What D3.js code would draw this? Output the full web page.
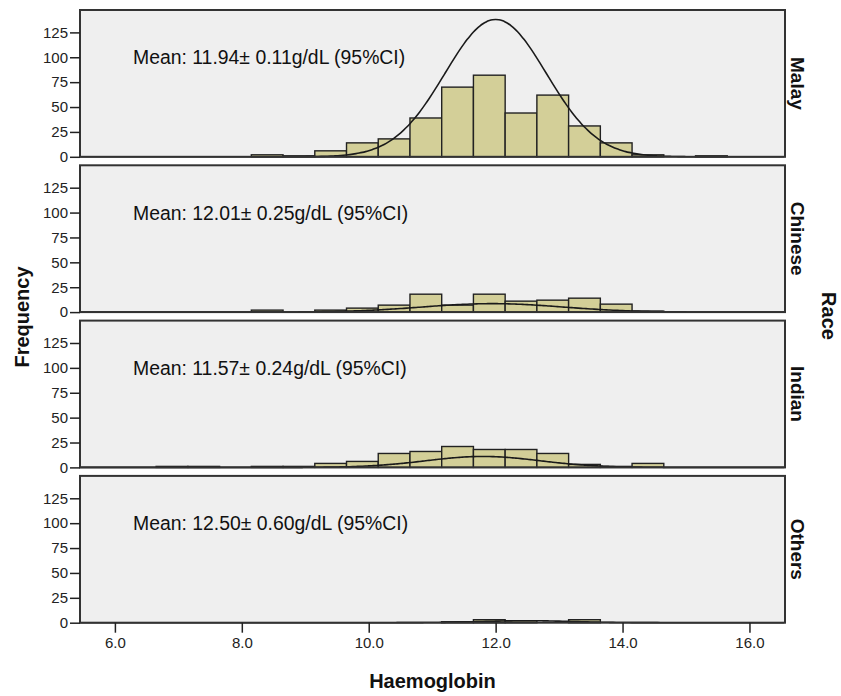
<!doctype html>
<html lang="en">
<head>
<meta charset="utf-8">
<title>Haemoglobin by race</title>
<script src="https://cdn.jsdelivr.net/npm/d3@7"></script>
<style>
    body { margin: 0; background: #fff; }
    svg { font-family: "Liberation Sans", Arial, sans-serif; }
    .tick text { fill: #222; font-size: 15px; }
    .tick line { stroke: #222; stroke-width: 1.5; }
</style>
</head>
<body>
<svg width="841" height="696"></svg>
<script>
    // data
    var races = ["Malay", "Chinese", "Indian", "Others"];
    var binStarts = [6.65, 7.15, 7.65, 8.15, 8.65, 9.15, 9.65, 10.15, 10.65, 11.15, 11.65, 12.15, 12.65, 13.15, 13.65, 14.15, 14.65, 15.15];
    var binWidth = 0.5;
    var malayCounts   = [0, 0, 0, 2, 1, 6, 14, 18, 39, 70, 82, 44, 62, 31, 14, 2, 0, 1];
    var chineseCounts = [0, 0, 0, 2, 0, 2, 4, 7, 18, 7, 18, 11, 12, 14, 8, 1, 0, 0];
    var indianCounts  = [1, 1, 0, 1, 1, 4, 6, 14, 16, 21, 18, 18, 14, 3, 1, 4, 0, 0];
    var othersCounts  = [0, 0, 0, 0, 0, 0, 0, 0, 0, 1, 3, 2, 0, 3, 0, 0, 0, 0];
    var meanLabels = [
        "Mean: 11.94\u00b1 0.11g/dL (95%CI)",
        "Mean: 12.01\u00b1 0.25g/dL (95%CI)",
        "Mean: 11.57\u00b1 0.24g/dL (95%CI)",
        "Mean: 12.50\u00b1 0.60g/dL (95%CI)"
    ];
    // fitted normal curves (centre, spread, peak height as drawn)
    var curveMeans = [12.0, 11.95, 11.8, 12.5];
    var curveSDs = [0.8, 1.1, 0.9, 0.7];
    var curvePeaks = [138, 8.5, 11, 2];
    var yTicks = [0, 25, 50, 75, 100, 125];
    var xTicks = [6, 8, 10, 12, 14, 16];

    var counts = [malayCounts, chineseCounts, indianCounts, othersCounts];

    var svg = d3.select("svg");
    var left = 80, right = 785;
    var panelTop = 10, panelStep = 155.3, panelH = 146.8;

    var x = d3.scaleLinear().domain([5.45, 16.56]).range([left, right]);
    var y = d3.scaleLinear().domain([0, 147.5]).range([panelH, 0]);

    var line = d3.line()
        .x(function (d) { return x(d[0]); })
        .y(function (d) { return y(d[1]); })
        .curve(d3.curveBasis);

    races.forEach(function (race, i) {
        var g = svg.append("g")
            .attr("transform", "translate(0," + (panelTop + i * panelStep) + ")");

        g.append("rect")
            .attr("x", left)
            .attr("y", 0)
            .attr("width", right - left)
            .attr("height", panelH)
            .attr("fill", "#efefef");

        var bins = binStarts.map(function (s, j) { return { x0: s, n: counts[i][j] }; })
            .filter(function (d) { return d.n > 0; });

        g.selectAll("rect.bar")
            .data(bins)
            .enter()
            .append("rect")
            .attr("class", "bar")
            .attr("x", function (d) { return x(d.x0); })
            .attr("y", function (d) { return y(d.n); })
            .attr("width", function (d) { return x(d.x0 + binWidth) - x(d.x0); })
            .attr("height", function (d) { return y(0) - y(d.n); })
            .attr("fill", "#d3cf98")
            .attr("stroke", "#222")
            .attr("stroke-width", 1.4);

        // normal curve
        var pts = d3.range(x.domain()[0], x.domain()[1] + 0.01, 0.05).map(function (v) {
            var z = (v - curveMeans[i]) / curveSDs[i];
            return [v, curvePeaks[i] * Math.exp(-0.5 * z * z)];
        });
        g.append("path")
            .datum(pts)
            .attr("d", line)
            .attr("fill", "none")
            .attr("stroke", "#1a1a1a")
            .attr("stroke-width", 1.6);

        g.append("rect")
            .attr("x", left)
            .attr("y", 0)
            .attr("width", right - left)
            .attr("height", panelH)
            .attr("fill", "none")
            .attr("stroke", "#333")
            .attr("stroke-width", 2);

        var ya = g.append("g")
            .attr("transform", "translate(" + left + ",0)")
            .call(d3.axisLeft(y).tickValues(yTicks).tickSizeInner(10).tickSizeOuter(0).tickPadding(2));
        ya.select(".domain").remove();

        g.append("text")
            .attr("x", 133)
            .attr("y", y(100) + 7)
            .attr("font-size", 19.4)
            .attr("fill", "#111")
            .text(meanLabels[i]);

        g.append("text")
            .attr("transform", "translate(791," + (panelH / 2) + ") rotate(90)")
            .attr("text-anchor", "middle")
            .attr("font-size", 19)
            .attr("font-weight", "bold")
            .attr("fill", "#111")
            .text(race);
    });

    var bottom = panelTop + 3 * panelStep + panelH;
    var xa = svg.append("g")
        .attr("transform", "translate(0," + bottom + ")")
        .call(d3.axisBottom(x).tickValues(xTicks).tickFormat(d3.format(".1f")).tickSizeInner(10).tickSizeOuter(0).tickPadding(5));
    xa.select(".domain").remove();

    svg.append("text")
        .attr("x", (left + right) / 2)
        .attr("y", 688)
        .attr("text-anchor", "middle")
        .attr("font-size", 20)
        .attr("font-weight", "bold")
        .attr("fill", "#111")
        .text("Haemoglobin");

    svg.append("text")
        .attr("transform", "translate(29,317) rotate(-90)")
        .attr("text-anchor", "middle")
        .attr("font-size", 20)
        .attr("font-weight", "bold")
        .attr("fill", "#111")
        .text("Frequency");

    svg.append("text")
        .attr("transform", "translate(822,316) rotate(90)")
        .attr("text-anchor", "middle")
        .attr("font-size", 20)
        .attr("font-weight", "bold")
        .attr("fill", "#111")
        .text("Race");
</script>
</body>
</html>
